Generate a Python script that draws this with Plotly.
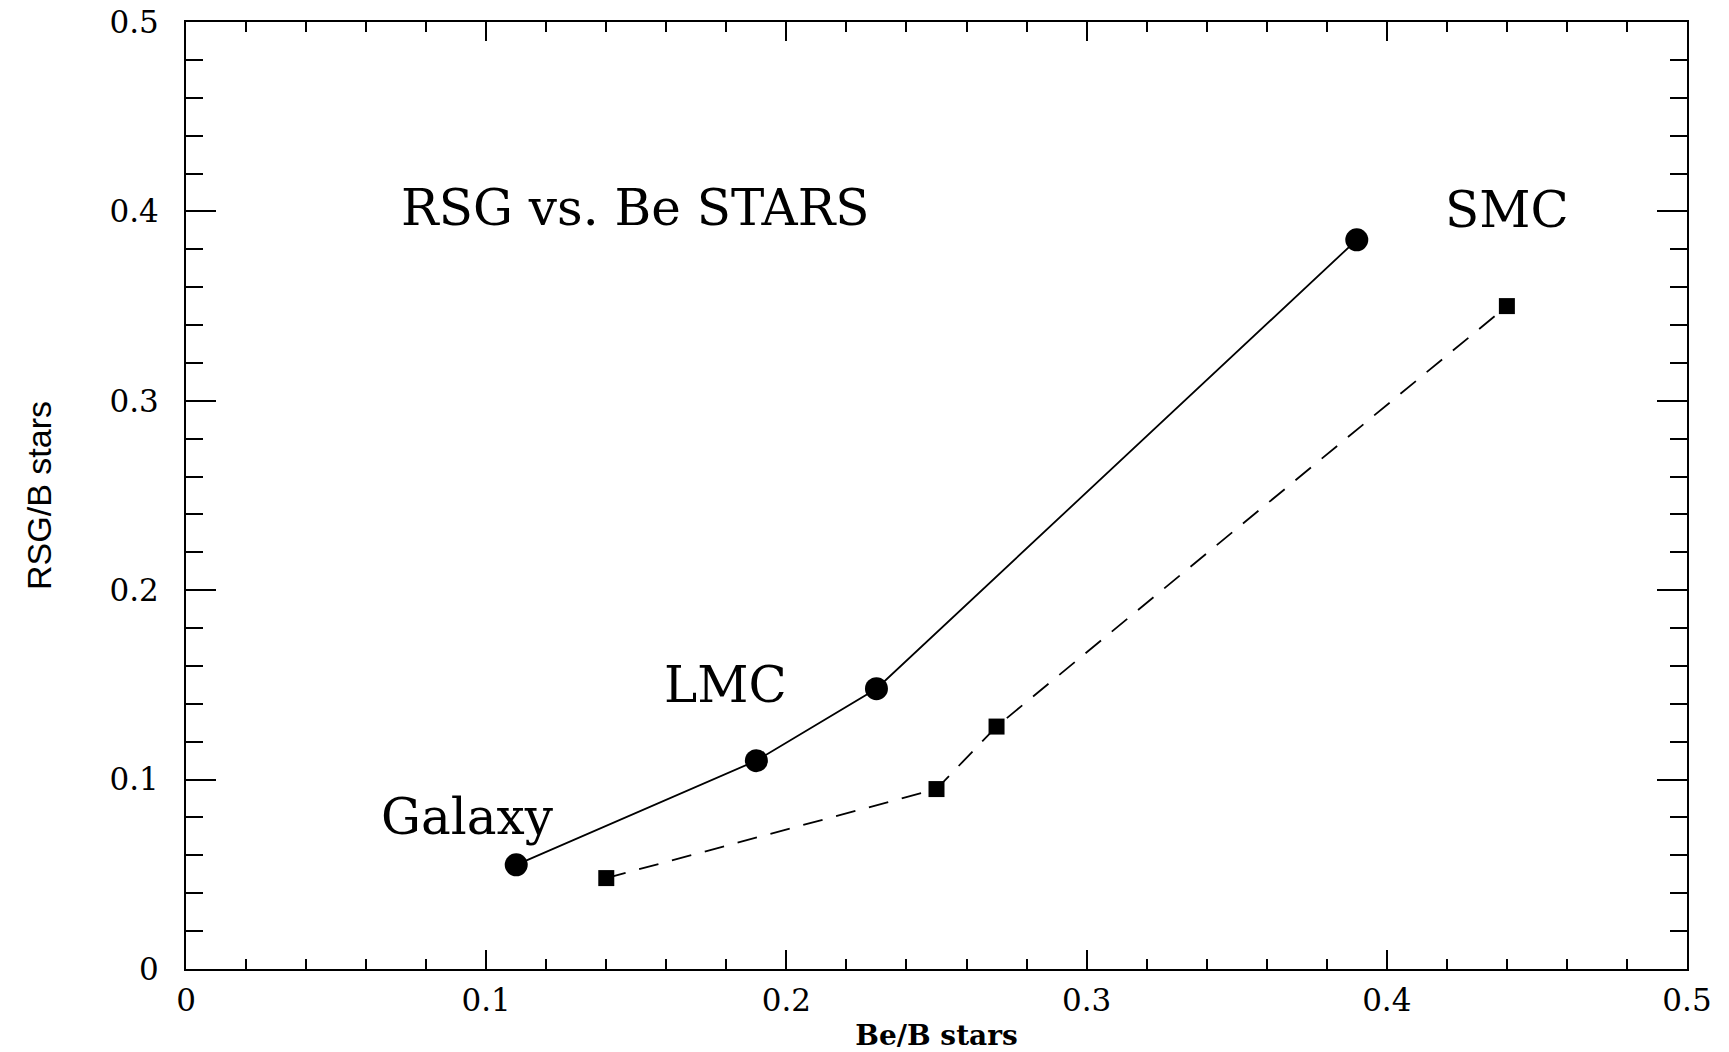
import plotly.graph_objects as go

# Data
circle_x = [0.11, 0.19, 0.23, 0.39]
circle_y = [0.055, 0.11, 0.148, 0.385]
square_x = [0.14, 0.25, 0.27, 0.44]
square_y = [0.048, 0.095, 0.128, 0.35]

tick_vals = [0, 0.1, 0.2, 0.3, 0.4, 0.5]
tick_text = ["0", "0.1", "0.2", "0.3", "0.4", "0.5"]

labels = ["RSG vs. Be STARS", "SMC", "LMC", "Galaxy"]
label_x = [0.1497, 0.44, 0.1797, 0.0937]
label_y = [0.402, 0.401, 0.150, 0.080]

SERIF = "DejaVu Serif"

fig = go.Figure()
fig.add_trace(go.Scatter(
    x=circle_x, y=circle_y, mode="lines+markers",
    line=dict(color="black", width=1.8),
    marker=dict(symbol="circle", size=23, color="black"),
    showlegend=False,
))
fig.add_trace(go.Scatter(
    x=square_x, y=square_y, mode="lines+markers",
    line=dict(color="black", width=1.8, dash="20px,14px"),
    marker=dict(symbol="square", size=16, color="black"),
    showlegend=False,
))

for t, x, y in zip(labels, label_x, label_y):
    fig.add_annotation(x=x, y=y, text=t, showarrow=False,
                       xanchor="center", yanchor="middle",
                       font=dict(family=SERIF, size=50, color="black"))

axis_common = dict(
    range=[0, 0.5], tickmode="array", tickvals=tick_vals, ticktext=tick_text,
    ticks="inside", tickwidth=2, tickcolor="black",
    showline=True, linewidth=2, linecolor="black", mirror="allticks",
    showgrid=False, zeroline=False,
    tickfont=dict(family=SERIF, size=31, color="black"),
)

fig.update_xaxes(**axis_common, ticklen=19,
                 minor=dict(dtick=0.02, tick0=0, ticks="inside", ticklen=10,
                            tickwidth=2, tickcolor="black", showgrid=False),
                 ticklabelstandoff=3,
                 title=dict(text="Be/B stars", standoff=10,
                            font=dict(family=SERIF, size=28, color="black", weight="bold")))
fig.update_yaxes(**axis_common, ticklen=30,
                 minor=dict(dtick=0.02, tick0=0, ticks="inside", ticklen=17,
                            tickwidth=2, tickcolor="black", showgrid=False),
                 ticklabelstandoff=19,
                 title=dict(text="RSG/B stars", standoff=48,
                            font=dict(family="Liberation Sans", size=34, color="black")))

fig.update_layout(
    width=1729, height=1052,
    margin=dict(l=186, r=42, t=22, b=83, autoexpand=False),
    plot_bgcolor="white", paper_bgcolor="white",
)

fig.write_html("out.html")
